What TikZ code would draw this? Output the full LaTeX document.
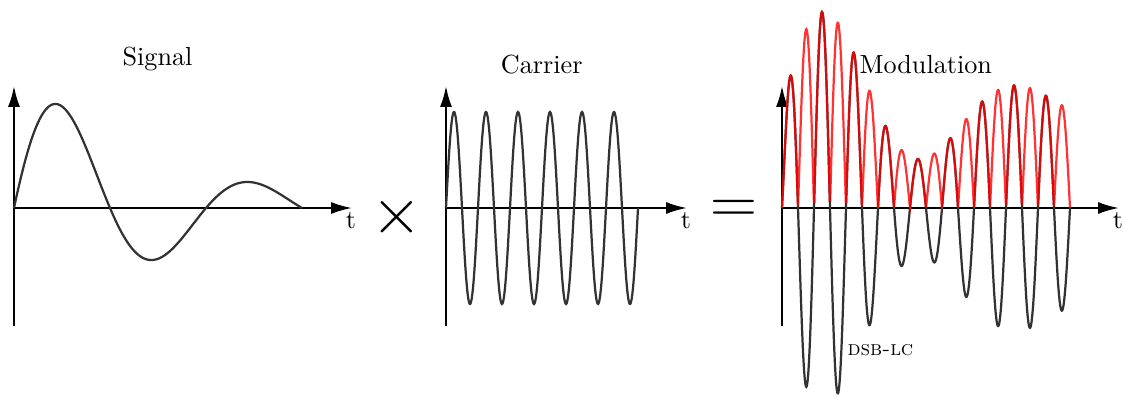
\documentclass[tikz,border=0pt]{standalone}
\usepackage{tikz}
\usetikzlibrary{arrows.meta}
\definecolor{wavegray}{RGB}{50,50,50}
\begin{document}
\begin{tikzpicture}[x=0.382pt,y=-0.382pt,
  axis/.style={line width=0.8pt,-{Latex[length=8pt,width=4.6pt]}},
  wave/.style={line width=0.85pt,color=wavegray},
  redwave/.style={line width=0.85pt,color=red,opacity=0.8},
  lab/.style={inner sep=0pt,anchor=base},
  title/.style={inner sep=0pt,anchor=base},
  declare function={sn(\t)=exp(-0.00722*\t)*sin(1.875*\t)/0.7237;
                    mw(\t)=100*(1+sn(\t))*sin(11.25*\t);}]
\useasboundingbox (0,0) rectangle (1126,396);
% ---------- Signal panel ----------
\coordinate (s0) at (14,208);
\coordinate (sb) at (14,326);
\coordinate (st) at (14,86);
\coordinate (sx) at (352,208);
\draw[axis] (sb) -- (st);
\draw[axis] (s0) -- (sx);
\node[lab] (slab) at (351,228) {t};
\node[title] (stitle) at (157.5,65) {Signal};
\draw[wave] plot[domain=0:288,samples=200,smooth] ({14+\x},{208-143.6*exp(-0.00722*\x)*sin(1.875*\x)});
% ---------- times ----------
\node[inner sep=0pt,font=\fontsize{24}{28}\selectfont] (times) at (397,217) {$\times$};
% ---------- Carrier panel ----------
\coordinate (c0) at (446,208);
\coordinate (cb) at (446,326);
\coordinate (ct) at (446,86);
\coordinate (cx) at (687,208);
\draw[axis] (cb) -- (ct);
\draw[axis] (c0) -- (cx);
\node[lab] (clab) at (686,228) {t};
\node[title] (ctitle) at (541.7,73) {Carrier};
\draw[wave] plot[domain=0:192,samples=300,smooth] ({446+\x},{208-96*sin(11.25*\x)});
% ---------- equals ----------
\node[inner sep=0pt,font=\fontsize{23}{27}\selectfont] (eq) at (733.5,212) {$=$};
% ---------- Modulation panel ----------
\coordinate (m0) at (782,208);
\coordinate (mb) at (782,326);
\coordinate (mt) at (782,86);
\coordinate (mx) at (1119,208);
\draw[axis] (mb) -- (mt);
\draw[axis] (m0) -- (mx);
\node[lab] (mlab) at (1118,228) {t};
\node[title] (mtitle) at (925.8,73) {Modulation};
\draw[wave] plot[domain=0:288,samples=700,smooth] ({782+\x},{208-0.98*mw(\x)});
\draw[redwave] plot[domain=0:288,samples=700] ({782+\x},{208-abs(0.98*mw(\x))});
\node[inner sep=0pt,anchor=base west,font=\footnotesize] (dsb) at (847,355) {\textsc{dsb-lc}};
\end{tikzpicture}
\end{document}
